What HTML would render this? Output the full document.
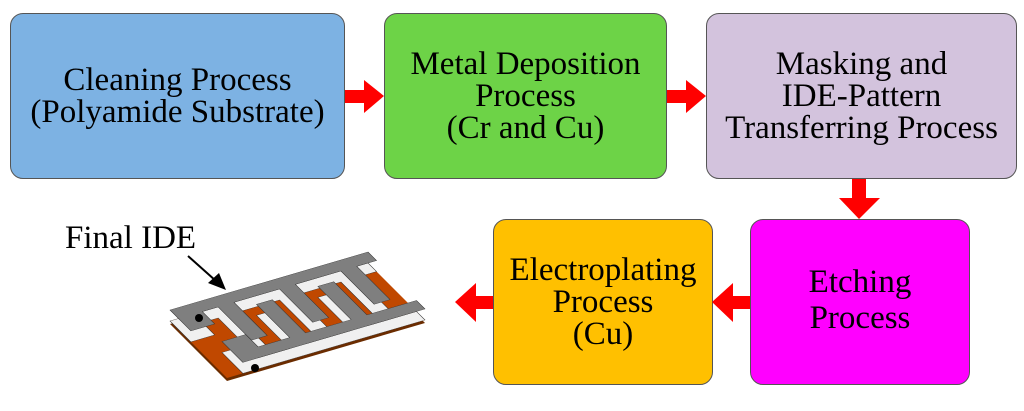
<!DOCTYPE html>
<html><head><style>
body{margin:0;width:1024px;height:411px;background:#fff;position:relative;overflow:hidden;font-family:"Liberation Serif",serif;}
.b{position:absolute;border:1.5px solid #555;border-radius:13px;box-sizing:border-box;display:flex;align-items:center;justify-content:center;text-align:center;font-size:33px;line-height:32px;color:#000;}
</style></head><body>
<div class="b" style="left:10px;top:13px;width:335px;height:166px;background:#7db2e3;">Cleaning Process<br>(Polyamide Substrate)</div>
<div class="b" style="left:384px;top:13px;width:283px;height:166px;background:#6dd347;">Metal Deposition<br>Process<br>(Cr and Cu)</div>
<div class="b" style="left:706px;top:13px;width:311px;height:166px;background:#d3c3dd;">Masking and<br>IDE-Pattern<br>Transferring Process</div>
<div class="b" style="left:750px;top:219px;width:220px;height:166px;background:#ff00ff;padding-bottom:4px;line-height:36px;">Etching<br>Process</div>
<div class="b" style="left:493px;top:219px;width:220px;height:166px;background:#ffc000;">Electroplating<br>Process<br>(Cu)</div>
<div style="position:absolute;left:65px;top:220px;font-size:33px;">Final IDE</div>
<svg width="1024" height="411" style="position:absolute;left:0;top:0">
<g fill="#ff0000">
<polygon points="345,90 364,90 364,80 384,96 364,113 364,103 345,103"/>
<polygon points="667,90 686,90 686,80 706,96 686,113 686,103 667,103"/>
<polygon points="852,179 866,179 866,198 880,198 859,219 839,198 852,198"/>
<polygon points="750,296 733,296 733,283 712,302 733,322 733,309 750,309"/>
<polygon points="493,296 476,296 476,283 455,302 476,322 476,309 493,309"/>
</g>
<line x1="188" y1="256" x2="216" y2="281" stroke="#000" stroke-width="2"/>
<polygon points="226,290 208,283 219,273" fill="#000"/>
<g transform="translate(0,14)"><g transform="matrix(1.98,-0.58,0.95,0.95,170,310)"><polygon points="0,0 100,0 100,60 0,60" fill="#6b2c00"/></g></g>
<g transform="translate(0,11)"><g transform="matrix(1.98,-0.58,0.95,0.95,170,310)"><polygon points="0,0 100,0 100,60 0,60" fill="#c04800"/></g></g>
<g transform="translate(0,11)"><g transform="matrix(1.98,-0.58,0.95,0.95,170,310)" fill="#f0f0f0" stroke="#333" stroke-width="0.3">
<path d="M0,0H100V9H90V44H82V9H59V44H51V9H28V44H20V9H12V22H0Z"/>
<path d="M8,38H20V51H36V16H44V51H67V16H75V51H100V60H8Z"/>
</g></g>
<g transform="matrix(1.98,-0.58,0.95,0.95,170,310)" fill="#7f7f7f" stroke="#333" stroke-width="0.3">
<path d="M0,0H100V9H90V44H82V9H59V44H51V9H28V44H20V9H12V22H0Z"/>
<path d="M8,38H20V51H36V16H44V51H67V16H75V51H100V60H8Z"/>
</g>
<circle cx="199" cy="318" r="4" fill="#000"/>
<circle cx="255" cy="368" r="4" fill="#000"/>
</svg>
</body></html>
